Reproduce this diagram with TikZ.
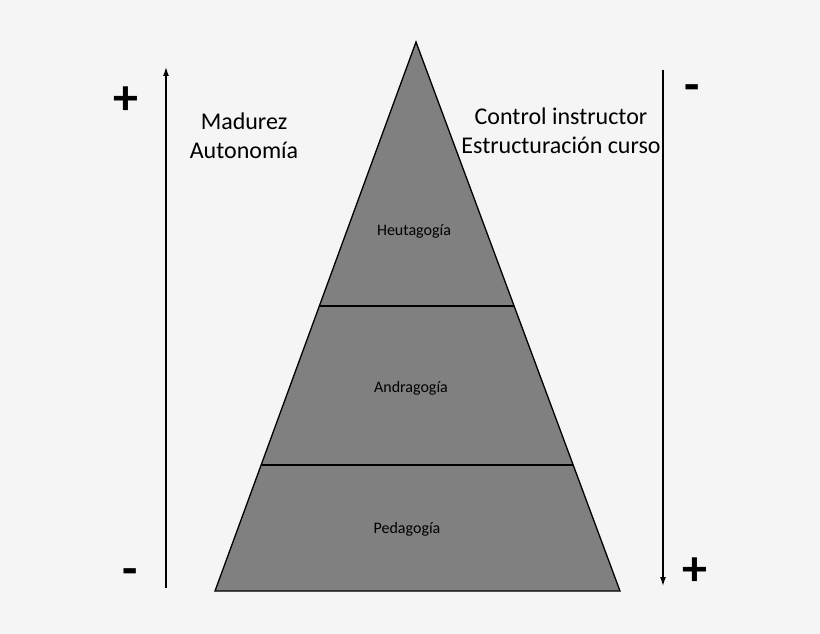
\documentclass[tikz,border=0pt]{standalone}
\usepackage{fontspec}
\setmainfont{Carlito}
\usetikzlibrary{arrows.meta}
\definecolor{bg}{HTML}{F5F5F5}
\definecolor{pyr}{HTML}{808080}
\begin{document}
\begin{tikzpicture}[x=1pt,y=-1pt,
  bigtext/.style={font=\fontsize{24}{29}\selectfont, align=center, inner sep=0pt},
  smalltext/.style={font=\fontsize{16}{19}\selectfont, inner sep=0pt},
  signtext/.style={font=\fontsize{50}{50}\bfseries\selectfont, inner sep=0pt},
  arrowline/.style={line width=1.3pt, -{Latex[length=9pt,width=6pt]}},
  layer/.style={line width=1.3pt}]
\fill[bg] (0,0) rectangle (820,634);
\useasboundingbox (0,0) rectangle (820,634);
% pyramid
\coordinate (apex) at (416,42);
\coordinate (bl) at (215,591);
\coordinate (br) at (620,591);
\coordinate (l1) at (319,306);
\coordinate (r1) at (514,306);
\coordinate (l2) at (262,465);
\coordinate (r2) at (573,465);
\filldraw[fill=pyr, draw=black, layer, line join=miter] (apex) -- (br) -- (bl) -- cycle;
\draw[layer] (l1) -- (r1);
\draw[layer] (l2) -- (r2);
\node[smalltext] (heu) at (414,231) {Heutagogía};
\node[smalltext] (and) at (411,388) {Andragogía};
\node[smalltext] (ped) at (407,529) {Pedagogía};
% left arrow
\coordinate (la0) at (166,588);
\coordinate (la1) at (166,67);
\draw[arrowline] (la0) -- (la1);
% right arrow
\coordinate (ra0) at (663,70);
\coordinate (ra1) at (663,586);
\draw[arrowline] (ra0) -- (ra1);
% labels
\node[bigtext] (mad) at (244,136) {Madurez\\Autonomía};
\node[bigtext] (ctl) at (561,131) {Control instructor\\Estructuración curso};
\node[signtext] (lp) at (126,101) {+};
\node[signtext] (lm) at (130,577) {-};
\node[signtext] (rm) at (692,93) {-};
\node[signtext] (rp) at (695,572) {+};
\end{tikzpicture}
\end{document}
